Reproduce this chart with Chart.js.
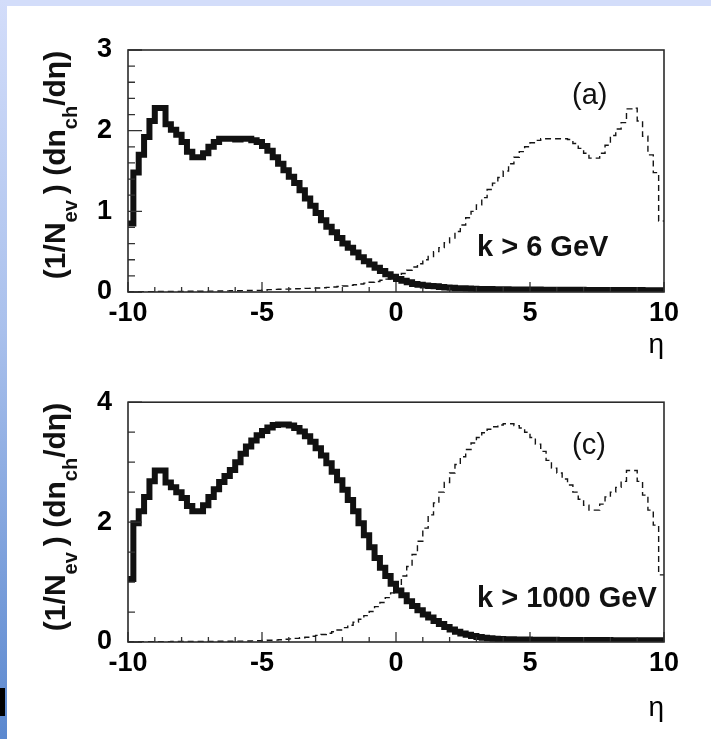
<!DOCTYPE html>
<html>
<head>
<meta charset="utf-8">
<script src="https://cdn.jsdelivr.net/npm/chart.js@4.4.1/dist/chart.umd.min.js"></script>
<style>
  html, body { margin: 0; padding: 0; background: #fff; }
  #page { position: relative; width: 711px; height: 739px; overflow: hidden; background: #fff;
          font-family: "Liberation Sans", Arial, sans-serif; color: #111; }
  .strip-top { position: absolute; left: 0; top: 0; width: 711px; height: 6px; background: #d3ddfa; }
  .strip-left { position: absolute; left: 0; top: 0; width: 7px; height: 739px;
                background: linear-gradient(#d3ddfa, #a9c0ec 45%, #5b88cf); }
  .cursor-bar { position: absolute; left: 0; top: 688px; width: 5px; height: 28px; background: #000; }
  canvas { position: absolute; left: 0; }
  .ytitle { position: absolute; width: 240px; height: 40px; transform-origin: 0 0; transform: rotate(-90deg);
            text-align: center; white-space: nowrap; font-weight: bold; font-size: 30px; line-height: 1; }
  .ytitle sub { font-size: 20px; vertical-align: -12px; line-height: 0; }
  .note { position: absolute; white-space: nowrap; line-height: 1; font-size: 29px; }
  .note.bold { font-weight: bold; }
</style>
</head>
<body>
<div id="page">
  <div class="strip-top"></div>
  <div class="strip-left"></div>
  <div class="cursor-bar"></div>

  <canvas id="panelA" width="711" height="370" style="top:0"></canvas>
  <canvas id="panelC" width="711" height="369" style="top:370px"></canvas>

  <div class="ytitle" style="left:40px; top:285px;">(1/N<sub>ev</sub>&thinsp;) (dn<sub>ch</sub>/dη)</div>
  <div class="ytitle" style="left:40px; top:637px;">(1/N<sub>ev</sub>&thinsp;) (dn<sub>ch</sub>/dη)</div>

  <div class="note" style="left:572px; top:80px;">(a)</div>
  <div class="note bold" style="left:477px; top:232px;">k &gt; 6 GeV</div>
  <div class="note" style="left:572px; top:430px;">(c)</div>
  <div class="note bold" style="left:477px; top:583px;">k &gt; 1000 GeV</div>
</div>

<script>
// Pseudorapidity bin edges (0.2 wide, -10 .. 10)
const etaEdges = [
  -10, -9.8, -9.6, -9.4, -9.2, -9, -8.8, -8.6, -8.4, -8.2,
  -8, -7.8, -7.6, -7.4, -7.2, -7, -6.8, -6.6, -6.4, -6.2,
  -6, -5.8, -5.6, -5.4, -5.2, -5, -4.8, -4.6, -4.4, -4.2,
  -4, -3.8, -3.6, -3.4, -3.2, -3, -2.8, -2.6, -2.4, -2.2,
  -2, -1.8, -1.6, -1.4, -1.2, -1, -0.8, -0.6, -0.4, -0.2,
  0, 0.2, 0.4, 0.6, 0.8, 1, 1.2, 1.4, 1.6, 1.8,
  2, 2.2, 2.4, 2.6, 2.8, 3, 3.2, 3.4, 3.6, 3.8,
  4, 4.2, 4.4, 4.6, 4.8, 5, 5.2, 5.4, 5.6, 5.8,
  6, 6.2, 6.4, 6.6, 6.8, 7, 7.2, 7.4, 7.6, 7.8,
  8, 8.2, 8.4, 8.6, 8.8, 9, 9.2, 9.4, 9.6, 9.8, 10
];

// Panel (a), k > 6 GeV: solid histogram
const solidA = [
  0.85, 1.48, 1.70, 1.92, 2.12, 2.28, 2.28, 2.08, 2.01, 1.95,
  1.86, 1.74, 1.67, 1.67, 1.72, 1.80, 1.86, 1.90, 1.90, 1.90,
  1.89, 1.90, 1.90, 1.88, 1.86, 1.81, 1.75, 1.67, 1.59, 1.51,
  1.43, 1.35, 1.26, 1.16, 1.07, 0.98, 0.89, 0.81, 0.74, 0.67,
  0.60, 0.55, 0.49, 0.43, 0.38, 0.34, 0.30, 0.26, 0.22, 0.19,
  0.16, 0.14, 0.12, 0.10, 0.09, 0.08, 0.075, 0.07, 0.062, 0.056,
  0.052, 0.048, 0.045, 0.042, 0.040, 0.038, 0.037, 0.036, 0.035, 0.034,
  0.033, 0.032, 0.032, 0.031, 0.031, 0.030, 0.030, 0.029, 0.029, 0.028,
  0.028, 0.028, 0.027, 0.027, 0.027, 0.026, 0.026, 0.026, 0.025, 0.025,
  0.025, 0.025, 0.024, 0.024, 0.024, 0.024, 0.023, 0.023, 0.023, 0.023
];

// Panel (a), k > 6 GeV: dashed histogram
const dashedA = [
  0.004, 0.004, 0.005, 0.005, 0.005, 0.006, 0.006, 0.007, 0.007, 0.008,
  0.008, 0.009, 0.009, 0.010, 0.010, 0.011, 0.012, 0.013, 0.014, 0.015,
  0.016, 0.017, 0.018, 0.019, 0.020, 0.025, 0.030, 0.032, 0.034, 0.036,
  0.038, 0.040, 0.042, 0.045, 0.048, 0.050, 0.053, 0.057, 0.062, 0.068,
  0.074, 0.082, 0.090, 0.100, 0.110, 0.120, 0.130, 0.145, 0.160, 0.180,
  0.20, 0.23, 0.27, 0.31, 0.35, 0.40, 0.44, 0.50, 0.55, 0.61,
  0.67, 0.75, 0.83, 0.92, 1.00, 1.08, 1.17, 1.27, 1.35, 1.42,
  1.50, 1.59, 1.67, 1.74, 1.80, 1.85, 1.88, 1.90, 1.90, 1.90,
  1.90, 1.90, 1.89, 1.84, 1.78, 1.72, 1.66, 1.66, 1.72, 1.82,
  1.94, 2.02, 2.10, 2.27, 2.28, 2.12, 1.93, 1.70, 1.48, 0.88
];

// Panel (c), k > 1000 GeV: solid histogram
const solidC = [
  1.05, 1.98, 2.18, 2.42, 2.68, 2.86, 2.86, 2.66, 2.58, 2.50,
  2.40, 2.27, 2.18, 2.18, 2.28, 2.42, 2.55, 2.67, 2.77, 2.87,
  3.00, 3.14, 3.26, 3.36, 3.45, 3.52, 3.58, 3.62, 3.63, 3.63,
  3.61, 3.57, 3.51, 3.43, 3.34, 3.23, 3.11, 2.98, 2.84, 2.70,
  2.54, 2.37, 2.18, 1.98, 1.78, 1.58, 1.40, 1.24, 1.10, 0.97,
  0.86, 0.78, 0.68, 0.60, 0.53, 0.46, 0.41, 0.35, 0.30, 0.25,
  0.21, 0.17, 0.14, 0.12, 0.10, 0.085, 0.072, 0.062, 0.055, 0.050,
  0.047, 0.045, 0.043, 0.041, 0.040, 0.039, 0.038, 0.037, 0.036, 0.036,
  0.035, 0.035, 0.034, 0.034, 0.033, 0.033, 0.033, 0.032, 0.032, 0.032,
  0.031, 0.031, 0.031, 0.030, 0.030, 0.030, 0.030, 0.029, 0.029, 0.029
];

// Panel (c), k > 1000 GeV: dashed histogram
const dashedC = [
  0.004, 0.004, 0.005, 0.005, 0.006, 0.006, 0.007, 0.007, 0.008, 0.008,
  0.009, 0.009, 0.010, 0.010, 0.011, 0.011, 0.012, 0.012, 0.013, 0.013,
  0.014, 0.015, 0.016, 0.018, 0.020, 0.024, 0.028, 0.032, 0.038, 0.045,
  0.052, 0.060, 0.070, 0.080, 0.095, 0.110, 0.125, 0.145, 0.170, 0.200,
  0.24, 0.28, 0.33, 0.38, 0.44, 0.51, 0.59, 0.66, 0.74, 0.82,
  0.94, 1.10, 1.26, 1.46, 1.68, 1.90, 2.12, 2.32, 2.50, 2.66,
  2.82, 2.96, 3.09, 3.21, 3.32, 3.41, 3.49, 3.55, 3.59, 3.62,
  3.64, 3.64, 3.61, 3.57, 3.50, 3.41, 3.30, 3.18, 3.03, 2.90,
  2.82, 2.72, 2.62, 2.50, 2.38, 2.28, 2.20, 2.20, 2.30, 2.42,
  2.50, 2.58, 2.68, 2.86, 2.86, 2.68, 2.45, 2.20, 1.95, 1.12
];

// Labelled (major) tick values
const xMajorTicks = [-10, -5, 0, 5, 10];
const yMajorTicksA = [0, 1, 2, 3];
const yMajorTicksC = [0, 2, 4];

const FONT = '"Liberation Sans", Arial, sans-serif';
Chart.defaults.font.family = FONT;

function histPoints(values) {
  const pts = values.map((v, i) => ({ x: etaEdges[i], y: v }));
  pts.push({ x: etaEdges[etaEdges.length - 1], y: values[values.length - 1] });
  return pts;
}

function isMajor(v, list) {
  return list.some(m => Math.abs(m - v) < 1e-6);
}

// Frame around the plot area plus tick marks pointing inwards
const insideTicks = {
  id: 'insideTicks',
  afterDatasetsDraw(chart) {
    const { ctx, chartArea: a, scales } = chart;
    const xs = scales.x, ys = scales.y;
    ctx.save();
    ctx.strokeStyle = '#333';
    ctx.lineWidth = 1.3;
    ctx.beginPath();
    xs.ticks.forEach(t => {
      const px = xs.getPixelForValue(t.value);
      const len = t.label !== '' ? 10 : 5;
      ctx.moveTo(px, a.bottom);
      ctx.lineTo(px, a.bottom - len);
    });
    ys.ticks.forEach(t => {
      const py = ys.getPixelForValue(t.value);
      const len = t.label !== '' ? 14 : 7;
      ctx.moveTo(a.left, py);
      ctx.lineTo(a.left + len, py);
    });
    ctx.stroke();
    ctx.lineWidth = 1.6;
    ctx.strokeStyle = '#2b2b2b';
    ctx.strokeRect(a.left, a.top, a.right - a.left, a.bottom - a.top);
    ctx.restore();
  }
};

function buildPanel(id, solid, dashed, yMax, yStep, yMajor, padTop, xAxisHeight, etaPad) {
  return new Chart(document.getElementById(id), {
    type: 'line',
    data: {
      datasets: [
        {
          data: histPoints(dashed),
          borderColor: '#151515', borderWidth: 1.4, borderDash: [6, 4],
          stepped: 'before', pointRadius: 0, fill: false,
          borderCapStyle: 'butt', borderJoinStyle: 'miter'
        },
        {
          data: histPoints(solid),
          borderColor: '#111', borderWidth: 6,
          stepped: 'before', pointRadius: 0, fill: false,
          borderCapStyle: 'butt', borderJoinStyle: 'miter'
        }
      ]
    },
    options: {
      responsive: false,
      animation: false,
      events: [],
      layout: { padding: { top: padTop, right: 47, bottom: 0, left: 0 } },
      plugins: { legend: { display: false }, tooltip: { enabled: false } },
      scales: {
        x: {
          type: 'linear', min: -10, max: 10,
          grid: { display: false, drawTicks: false },
          border: { display: false },
          ticks: {
            stepSize: 1, autoSkip: false, maxRotation: 0, padding: 5, color: '#000',
            font: { size: 27, weight: 'bold' },
            callback: v => isMajor(v, xMajorTicks) ? String(v) : ''
          },
          title: {
            display: true, text: 'η', align: 'end', color: '#000',
            font: { size: 28 }, padding: { top: 0, bottom: etaPad }
          },
          afterFit: s => { s.height = xAxisHeight; }
        },
        y: {
          type: 'linear', min: 0, max: yMax,
          grid: { display: false, drawTicks: false },
          border: { display: false },
          ticks: {
            stepSize: yStep, autoSkip: false, padding: 16, color: '#000',
            font: { size: 27, weight: 'bold' },
            callback: v => isMajor(v, yMajor) ? String(Math.round(v)) : ''
          },
          afterFit: s => { s.width = 128; }
        }
      }
    },
    plugins: [insideTicks]
  });
}

buildPanel('panelA', solidA, dashedA, 3, 0.2, yMajorTicksA, 50, 78, 8);
buildPanel('panelC', solidC, dashedC, 4, 0.5, yMajorTicksC, 32, 97, 14);
</script>
</body>
</html>
